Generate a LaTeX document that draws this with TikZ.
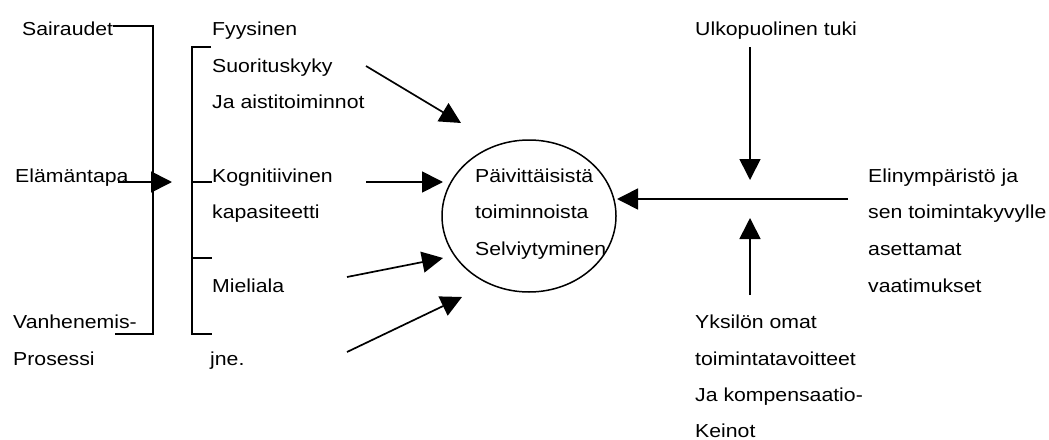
\documentclass[tikz,border=0pt]{standalone}
\usepackage{fontspec}
\setmainfont{Liberation Sans}[FakeStretch=1.13]
\usetikzlibrary{arrows.meta,shapes.geometric}
\begin{document}
\begin{tikzpicture}[x=1pt,y=-1pt,
  lbl/.style={anchor=base west,inner sep=0pt,font=\fontsize{18.8}{22}\selectfont},
  ln/.style={line width=1.7pt},
  arr/.style={line width=1.7pt,-{Triangle[length=21pt,width=21pt]}}]
\useasboundingbox (0,0) rectangle (1049,439);

% left column: causes
\node[lbl] (sair) at (22,35) {Sairaudet};
\node[lbl] (elam) at (15,182) {Elämäntapa};
\node[lbl] (vanh) at (13,328) {Vanhenemis-};
\node[lbl] (pros) at (13,365) {Prosessi};

% middle column: components
\node[lbl] (fyys) at (212,35) {Fyysinen};
\node[lbl] (suor) at (212,72) {Suorituskyky};
\node[lbl] (aist) at (212,108) {Ja aistitoiminnot};
\node[lbl] (kogn) at (212,182) {Kognitiivinen};
\node[lbl] (kapa) at (212,218) {kapasiteetti};
\node[lbl] (miel) at (212,292) {Mieliala};
\node[lbl] (jne)  at (210,365) {jne.};

% central ellipse
\node[draw,ellipse,line width=1.5pt,minimum width=174pt,minimum height=152pt,inner sep=0pt] (selv) at (529,216) {};
\node[lbl] (paiv) at (475,182) {Päivittäisistä};
\node[lbl] (toim) at (475,218) {toiminnoista};
\node[lbl] (selt) at (475,255) {Selviytyminen};

% right side
\node[lbl] (ulko) at (695,35) {Ulkopuolinen tuki};
\node[lbl] (elin) at (868,182) {Elinympäristö ja};
\node[lbl] (sent) at (868,218) {sen toimintakyvylle};
\node[lbl] (aset) at (868,255) {asettamat};
\node[lbl] (vaat) at (868,292) {vaatimukset};
\node[lbl] (yksi) at (695,328) {Yksilön omat};
\node[lbl] (tavo) at (695,365) {toimintatavoitteet};
\node[lbl] (komp) at (695,401) {Ja kompensaatio-};
\node[lbl] (kein) at (695,437) {Keinot};

% left bracket joining the causes
\coordinate (lbS) at (113,26);
\coordinate (lbT) at (153,26);
\coordinate (lbB) at (153,334);
\coordinate (lbE) at (115,334);
\draw[ln] (lbS) -- (lbT) -- (lbB) -- (lbE);
\coordinate (eS) at (118,182);
\coordinate (eT) at (172,182);
\draw[arr] (eS) -- (eT);

% right bracket grouping the components
\coordinate (rbS) at (211,47);
\coordinate (rbT) at (192,47);
\coordinate (rbB) at (192,334);
\coordinate (rbE) at (212,334);
\draw[ln] (rbS) -- (rbT) -- (rbB) -- (rbE);
\coordinate (rb1) at (192,182); \coordinate (rb1e) at (212,182);
\coordinate (rb2) at (192,258); \coordinate (rb2e) at (212,258);
\draw[ln] (rb1) -- (rb1e);
\draw[ln] (rb2) -- (rb2e);

% arrows into the ellipse
\coordinate (a1s) at (366,66);  \coordinate (a1t) at (461,123);
\coordinate (a2s) at (366,182); \coordinate (a2t) at (443,182);
\coordinate (a3s) at (347,277); \coordinate (a3t) at (443,258);
\coordinate (a4s) at (347,352); \coordinate (a4t) at (462,297);
\draw[arr] (a1s) -- (a1t);
\draw[arr] (a2s) -- (a2t);
\draw[arr] (a3s) -- (a3t);
\draw[arr] (a4s) -- (a4t);

% environment arrow and support/goal arrows
\coordinate (envS) at (848,199);
\coordinate (envT) at (617,199);
\draw[arr] (envS) -- (envT);
\coordinate (supS) at (750,47);
\coordinate (supT) at (750,180);
\draw[arr] (supS) -- (supT);
\coordinate (golS) at (750,295);
\coordinate (golT) at (750,218);
\draw[arr] (golS) -- (golT);
\end{tikzpicture}
\end{document}
